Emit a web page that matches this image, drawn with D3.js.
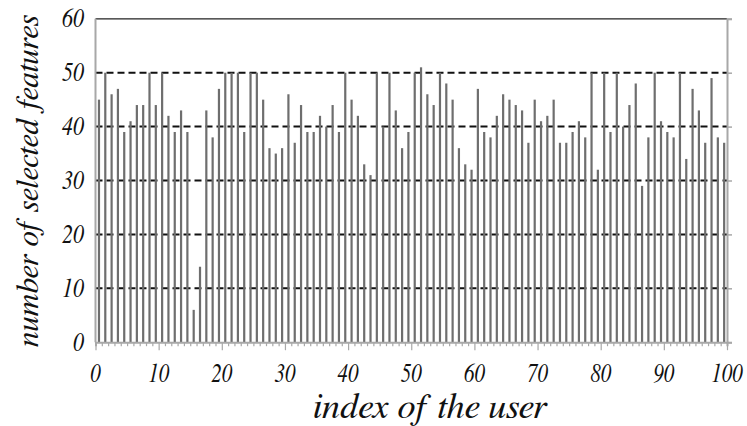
<!DOCTYPE html>
<html>
<head>
<meta charset="utf-8">
<script src="https://cdn.jsdelivr.net/npm/d3@7"></script>
<style>
  html, body { margin: 0; padding: 0; background: #fff; }
  svg { display: block; }
</style>
</head>
<body>
<svg id="chart" width="747" height="426"></svg>
<script>
// number of selected features for each user (users 1..100)
const users = d3.range(1, 101);
const selectedFeatures = [
  45, 50, 46, 47, 39, 41, 44, 44, 50, 44, 50, 42, 39, 43, 39,
  6, 14,
  43, 38, 47, 50, 50, 50, 39, 50, 50, 45, 36, 35, 36, 46, 37, 44, 39,
  39, 42, 40, 44, 39, 50, 45, 42, 33, 31, 50, 40, 50, 43, 36, 39, 50,
  51, 46, 44, 50, 48, 45, 36, 33, 32, 47, 39, 38, 42, 46, 45, 44, 43,
  37, 45, 41, 42, 45, 37, 37, 39, 41, 38, 50, 32, 50, 39, 50, 40, 44,
  48, 29, 38, 50, 41, 39, 38, 50, 34, 47, 43, 37, 49, 38, 37
];
const xTicks = [0, 10, 20, 30, 40, 50, 60, 70, 80, 90, 100];
const yTicks = [0, 10, 20, 30, 40, 50, 60];
const gridValues = [10, 20, 30, 40, 50];
const xTitle = "index of the user";
const yTitle = "number of selected features";

const serif = '"FreeSerif", "Liberation Serif", serif';

const svg = d3.select("#chart");
const x = d3.scaleLinear().domain([0, 100]).range([95.5, 727]);
const y = d3.scaleLinear().domain([0, 60]).range([342.2, 18.8]);

const axisGray = "#a8a8a8";

// dashed horizontal gridlines
svg.append("g").selectAll("line").data(gridValues).join("line")
  .attr("x1", x(0)).attr("x2", x(100))
  .attr("y1", d => y(d)).attr("y2", d => y(d))
  .attr("stroke", "#111").attr("stroke-width", 2)
  .attr("stroke-dasharray", "7,4");

// solid top border at the maximum
svg.append("line")
  .attr("x1", x(0)).attr("x2", x(100))
  .attr("y1", y(60)).attr("y2", y(60))
  .attr("stroke", "#222").attr("stroke-width", 1.2);

// bars
svg.append("g").selectAll("rect").data(users).join("rect")
  .attr("x", d => x(d - 0.45) - 1.1)
  .attr("width", 2.2)
  .attr("y", (d, i) => y(selectedFeatures[i]))
  .attr("height", (d, i) => y(0) - y(selectedFeatures[i]))
  .attr("fill", "#6e6e6e");

// left axis line
svg.append("line")
  .attr("x1", x(0)).attr("x2", x(0))
  .attr("y1", y(60)).attr("y2", y(0))
  .attr("stroke", axisGray).attr("stroke-width", 2);

// right axis with outward ticks
const right = svg.append("g").attr("transform", `translate(${x(100)},0)`)
  .call(d3.axisRight(y).tickValues(yTicks).tickSize(5).tickFormat(""));
right.select(".domain").attr("stroke", axisGray).attr("stroke-width", 2);
right.selectAll(".tick line").attr("stroke", axisGray).attr("stroke-width", 1.5);

// bottom axis: minor tick at every user, major tick every ten
const bottom = svg.append("g").attr("transform", `translate(0,${y(0)})`);
bottom.call(d3.axisBottom(x).tickValues(d3.range(0, 101)).tickSize(4).tickFormat(""));
bottom.select(".domain").attr("stroke", axisGray).attr("stroke-width", 2);
bottom.selectAll(".tick line").attr("stroke", axisGray).attr("stroke-width", 1.2)
  .attr("y2", d => (d % 10 === 0 ? 8 : 4));

// italic serif text
function label(sel) {
  return sel.style("font-family", serif).style("font-style", "italic").attr("fill", "#111");
}

// scale a title's font so it spans the wanted length
function fitTo(sel, base, target) {
  const len = sel.node().getComputedTextLength();
  sel.style("font-size", (base * target / len) + "px");
}

// y tick labels
svg.append("g").selectAll("text").data(yTicks).join("text")
  .call(label)
  .style("font-size", "27px")
  .attr("transform", d => `translate(84,${y(d) + 8.5}) scale(0.82,1)`)
  .attr("text-anchor", "end")
  .text(d => d);

// x tick labels
svg.append("g").selectAll("text").data(xTicks).join("text")
  .call(label)
  .style("font-size", "27px")
  .attr("transform", d => `translate(${x(d)},382) scale(0.78,1)`)
  .attr("text-anchor", "middle")
  .text(d => d);

// axis titles
const xt = svg.append("text").call(label)
  .style("font-size", "30px")
  .attr("x", 430).attr("y", 418)
  .attr("text-anchor", "middle")
  .text(xTitle);
fitTo(xt, 30, 234);

const yt = svg.append("text").call(label)
  .style("font-size", "30px")
  .attr("transform", "translate(38,181) rotate(-90)")
  .attr("text-anchor", "middle")
  .text(yTitle);
fitTo(yt, 30, 332);
</script>
</body>
</html>
